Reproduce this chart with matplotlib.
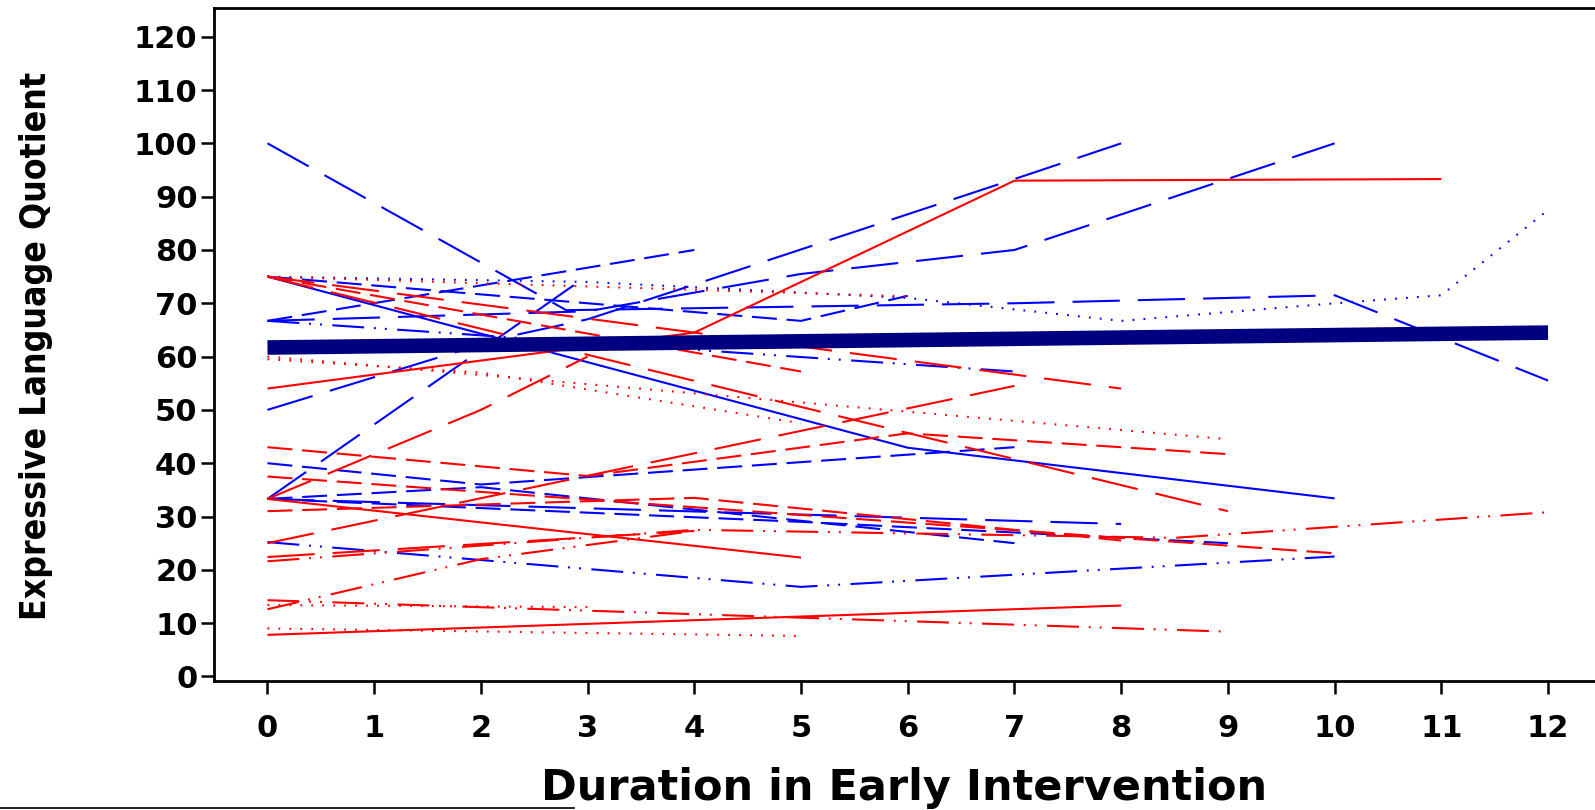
import matplotlib
matplotlib.use("Agg")
import matplotlib.pyplot as plt
from matplotlib import font_manager
from matplotlib.lines import Line2D

# individual trajectories: months in intervention vs expressive language quotient
blue_times = [
    [0, 2.8, 7, 10, 12],
    [0, 6, 10],
    [0, 3, 5, 6],
    [0, 3, 6, 8, 10, 11, 12],
    [0, 4],
    [0, 3, 5, 7, 10],
    [0, 7],
    [0, 2.2, 3, 4, 7, 8],
    [0, 3],
    [0, 2, 7],
    [0, 8],
    [0, 2, 7],
    [0, 5, 9],
    [0, 5, 10],
]
blue_scores = [
    [100, 68.7, 70, 71.5, 55.5],
    [75, 42.9, 33.4],
    [75, 70, 66.7, 71.4],
    [75, 74, 71, 66.7, 70, 71.5, 87.5],
    [66.7, 80],
    [66.7, 68.5, 75.5, 80, 100],
    [66.7, 57.2],
    [50, 63.5, 67, 73.5, 93.3, 100],
    [33.3, 75.2],
    [40, 36, 43],
    [33.3, 28.6],
    [33.3, 35.5, 25],
    [33.3, 29, 25],
    [25.2, 16.8, 22.5],
]
blue_lty = ["longdash", "solid", "dashed", "dotted", "dashed", "longdash",
            "dashdotdot", "longdash", "longdash", "dashed", "longdash",
            "dashed", "dashed", "dashdotdot"]

red_times = [
    [0, 4, 7, 11],
    [0, 5],
    [0, 8],
    [0, 8],
    [0, 5],
    [0, 9],
    [0, 6],
    [0, 9],
    [0, 2, 5],
    [0, 2, 3],
    [0, 7],
    [0, 3, 6, 9],
    [0, 10],
    [0, 4, 8],
    [0, 4, 8.5, 12],
    [0, 4],
    [0, 2, 4],
    [0, 9],
    [0, 3],
    [0, 5],
]
red_scores = [
    [54, 64.5, 93, 93.3],
    [33.3, 22.3],
    [7.8, 13.3],
    [75, 54],
    [75, 57.2],
    [75, 31],
    [75, 71.3],
    [60, 44.5],
    [59.5, 57, 47.5],
    [33.3, 50, 60],
    [25, 54.5],
    [43, 37.6, 45.6, 41.7],
    [37.5, 23.1],
    [31, 33.5, 25.5],
    [21.6, 27.5, 26, 30.8],
    [22.4, 27.3],
    [12.6, 22, 27.3],
    [14.3, 8.4],
    [13.4, 13],
    [9, 7.6],
]
red_lty = ["solid", "solid", "solid", "longdash", "dashed", "longdash",
           "dotted", "dotted", "dotted", "longdash", "longdash", "dashed",
           "dashed", "dashed", "dashdotdot", "longdash", "dashdotdot",
           "dashdotdot", "dotted", "dotted"]

# fitted mean trajectory
mean_times = [0, 12]
mean_scores = [61.7, 64.5]

x_ticks = list(range(0, 13))
y_ticks = list(range(0, 121, 10))

# dash patterns in points (R-like line types)
dash_styles = {
    "solid": "-",
    "dashed": (0, (18, 7)),
    "longdash": (0, (34, 13)),
    "dotted": (0, (1.3, 6.6)),
    "dashdotdot": (0, (23, 7, 1.4, 6.5, 1.4, 7.5)),
}

plt.rcParams["lines.scale_dashes"] = False
plt.rcParams["font.family"] = ["DejaVu Sans"]

fig = plt.figure(figsize=(15.95, 8.10), dpi=100)
ax = fig.add_axes([0.1339, 0.1593, 0.8661, 0.8309])

for t, s, lty in zip(blue_times, blue_scores, blue_lty):
    ax.plot(t, s, color="#0000ff", lw=1.5, linestyle=dash_styles[lty],
            solid_capstyle="butt", dash_capstyle="butt")
for t, s, lty in zip(red_times, red_scores, red_lty):
    ax.plot(t, s, color="#ff0000", lw=1.5, linestyle=dash_styles[lty],
            solid_capstyle="butt", dash_capstyle="butt")

ax.plot(mean_times, mean_scores, color="#000080", lw=10.5,
        solid_capstyle="butt", zorder=5)

ax.set_xlim(-0.505, 12.44)
ax.set_ylim(-0.85, 125.4)

ax.set_xticks(x_ticks)
ax.set_yticks(y_ticks)
ax.tick_params(axis="both", direction="out", length=9.5, width=1.8,
               labelsize=22)
ax.tick_params(axis="x", pad=14)
ax.tick_params(axis="y", pad=2)
for lab in ax.get_xticklabels() + ax.get_yticklabels():
    lab.set_fontweight("bold")

for side in ("left", "bottom", "top"):
    ax.spines[side].set_linewidth(2.0)
ax.spines["right"].set_visible(False)

fig.text(0.567, 0.027, "Duration in Early Intervention", ha="center",
         va="center", fontsize=31, fontweight="bold")

# narrow face for the vertical title when one is available
condensed = [f for f in font_manager.fontManager.ttflist
             if f.name in ("Liberation Sans Narrow", "DejaVu Sans")
             and f.stretch in ("condensed", "semi-condensed", 500 - 200)
             and f.weight in ("bold", 700)]
if condensed:
    ylab_font = dict(family=[condensed[0].name, "DejaVu Sans"],
                     stretch=condensed[0].stretch, fontsize=25.5)
else:
    ylab_font = dict(fontsize=23)
fig.text(0.0223, 0.573, "Expressive Language Quotient", rotation=90,
         ha="center", va="center", fontweight="bold", **ylab_font)

# short rule along the bottom-left edge
fig.add_artist(Line2D([0, 0.36], [0.002, 0.002], color="black", lw=1.2,
                      transform=fig.transFigure))

fig.savefig("out.png", dpi=100)
